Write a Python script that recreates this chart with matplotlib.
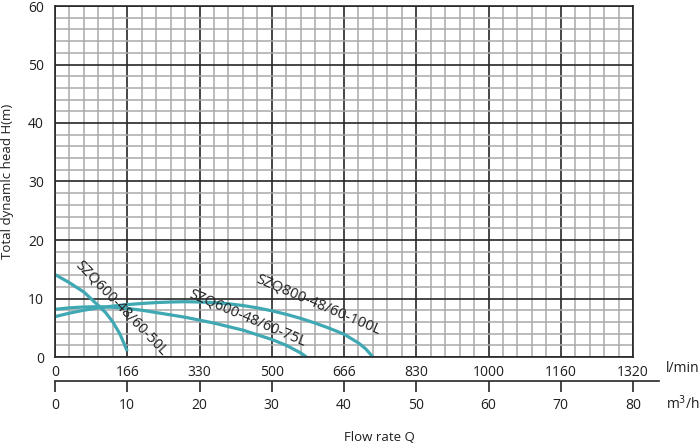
import matplotlib
matplotlib.use('Agg')
import matplotlib.pyplot as plt
import numpy as np

plt.rcParams['font.family'] = ['Open Sans', 'DejaVu Sans']

# flow in m3/h, head in m
q_50l = [0, 2, 4, 6, 7, 8, 9, 10]
h_50l = [14.1, 12.7, 11.1, 8.8, 7.6, 6.0, 3.9, 1.0]

q_75l = [0, 2, 4, 6, 8, 10, 12, 14, 16, 18, 20, 22, 24, 26, 28, 30, 32, 34, 34.8]
h_75l = [8.15, 8.4, 8.55, 8.6, 8.5, 8.3, 8.0, 7.6, 7.2, 6.8, 6.3, 5.8, 5.2, 4.6, 3.8, 3.0, 2.0, 0.7, 0.0]

q_100l = [0, 2, 4, 6, 8, 10, 12, 14, 16, 18, 20, 22, 24, 26, 28, 30, 32, 34, 36, 38, 40, 42, 43, 44]
h_100l = [6.9, 7.5, 8.0, 8.4, 8.7, 8.95, 9.15, 9.3, 9.4, 9.45, 9.4, 9.3, 9.1, 8.8, 8.4, 7.9, 7.3, 6.6, 5.8, 4.9, 3.9, 2.4, 1.4, 0.0]

m3h_ticks = [0, 10, 20, 30, 40, 50, 60, 70, 80]
lmin_labels = ['0', '166', '330', '500', '666', '830', '1000', '1160', '1320']
head_ticks = [0, 10, 20, 30, 40, 50, 60]

curve_color = '#3fa8b3'
text_color = '#1e1e1e'

fig = plt.figure(figsize=(7, 4.44), dpi=100)
ax = fig.add_axes([55 / 700, 1 - 357 / 444, 578 / 700, 351 / 444])

ax.set_xlim(0, 80)
ax.set_ylim(0, 60)
ax.set_xticks(m3h_ticks)
ax.set_xticklabels(lmin_labels)
ax.set_xticks(np.arange(0, 81, 2), minor=True)
ax.set_yticks(head_ticks)
ax.set_yticks(np.arange(0, 61, 2), minor=True)
ax.grid(which='minor', color='#aaaaaa', linewidth=1.1)
ax.grid(which='major', color='#262626', linewidth=1.2)
ax.set_axisbelow(True)
ax.tick_params(which='both', length=0)
ax.tick_params(axis='x', pad=6, labelsize=10, colors=text_color)
ax.tick_params(axis='y', pad=8, labelsize=10, colors=text_color)
for s in ax.spines.values():
    s.set_color('#262626')
    s.set_linewidth(1.2)

ax.plot(q_50l, h_50l, color=curve_color, lw=2.3, solid_capstyle='butt', clip_on=False)
ax.plot(q_75l, h_75l, color=curve_color, lw=2.3, solid_capstyle='butt', clip_on=False)
ax.plot(q_100l, h_100l, color=curve_color, lw=2.3, solid_capstyle='butt', clip_on=False)

ax.text(9.2, 8.3, 'SZQ600-48/60-50L', rotation=-46, ha='center', va='center',
        fontsize=10.5, color=text_color, rotation_mode='anchor')
ax.text(26.6, 6.7, 'SZQ600-48/60-75L', rotation=-23, ha='center', va='center',
        fontsize=10.5, color=text_color, rotation_mode='anchor')
ax.text(36.5, 9.0, 'SZQ800-48/60-100L', rotation=-23, ha='center', va='center',
        fontsize=10.5, color=text_color, rotation_mode='anchor')

ax.set_ylabel('Total dynamlc head H(m)', fontsize=9.5, color=text_color, labelpad=10)

# second flow axis in m3/h below the plot
ax2 = fig.add_axes([55 / 700, 1 - 381 / 444, 604 / 700, 0.0001])
ax2.set_xlim(0, 80 * 604 / 578)
ax2.set_ylim(0, 1)
ax2.set_xticks(m3h_ticks)
ax2.set_yticks([])
for name in ['top', 'left', 'right']:
    ax2.spines[name].set_visible(False)
ax2.spines['bottom'].set_color('#262626')
ax2.spines['bottom'].set_linewidth(1.2)
ax2.tick_params(axis='x', direction='out', length=8, width=1.2, color='#262626',
                pad=4, labelsize=10, labelcolor=text_color)

fig.text(666 / 700, 1 - 369 / 444, 'l/min', fontsize=10, color=text_color, va='center')
fig.text(666 / 700, 1 - 404 / 444, 'm$^3$/h', fontsize=10, color=text_color, va='center')
fig.text(379 / 700, 1 - 437 / 444, 'Flow rate Q', fontsize=9.5, color=text_color,
         ha='center', va='center')

fig.savefig('out.png', dpi=100)
